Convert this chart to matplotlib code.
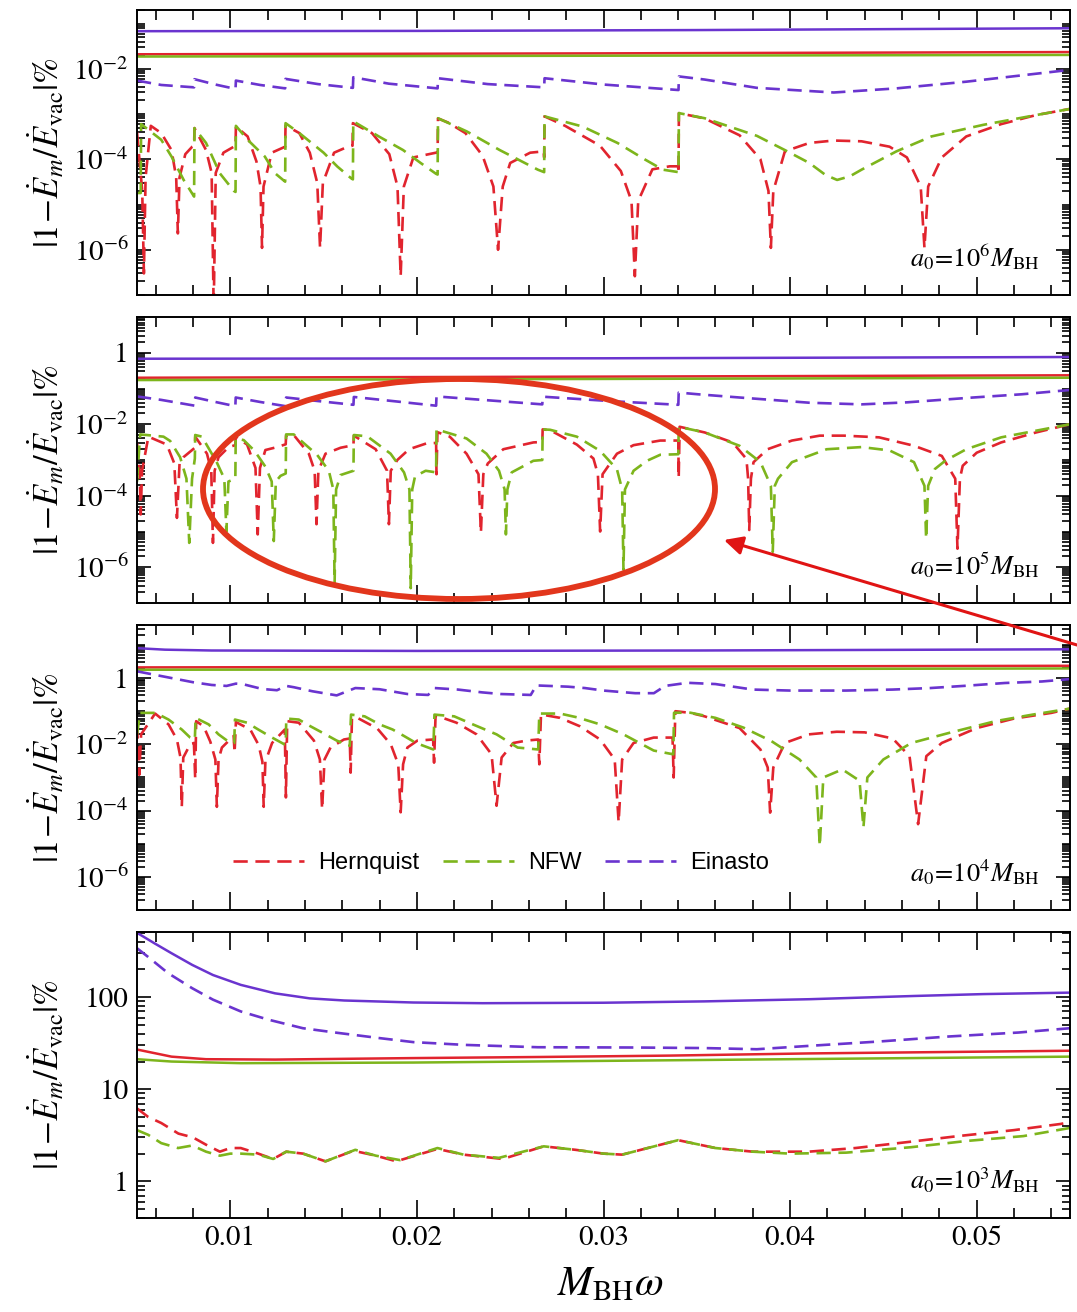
import numpy as np
import matplotlib
matplotlib.use('Agg')
import matplotlib.pyplot as plt
from matplotlib.ticker import LogLocator, MultipleLocator, FuncFormatter, NullFormatter
from matplotlib.patches import Ellipse, FancyArrowPatch

plt.rcParams['font.family'] = 'STIXGeneral'
plt.rcParams['mathtext.fontset'] = 'stix'

RED = '#e1242e'
GREEN = '#7db51c'
PURPLE = '#6a34cf'

# ---------------- a0 = 1e6 M_BH ----------------
hern_solid_6 = [(0.005, 0.021), (0.030, 0.022), (0.055, 0.0235)]
nfw_solid_6 = [(0.005, 0.0187), (0.030, 0.0195), (0.055, 0.0203)]
ein_solid_6 = [(0.005, 0.068), (0.020, 0.069), (0.035, 0.072), (0.055, 0.079)]

hern_dash_6 = [
    (0.00500, 4.0e-4), (0.00528, 2.0e-5), (0.00537, 3.0e-7), (0.00546, 4.0e-5), (0.00574, 5.5e-4),
    (0.00630, 3.8e-4), (0.00685, 1.6e-4), (0.00710, 4.0e-5), (0.00719, 2.3e-6), (0.00728, 4.0e-5),
    (0.00759, 1.3e-4), (0.00796, 1.9e-4), (0.00806, 2.0e-4), (0.00808, 4.9e-4),
    (0.00870, 1.6e-4), (0.00900, 5.0e-5), (0.00911, 5.0e-8), (0.00922, 5.0e-5), (0.00963, 1.4e-4),
    (0.01019, 1.9e-4), (0.01028, 1.9e-4), (0.01030, 5.3e-4),
    (0.01093, 3.2e-4), (0.01140, 9.0e-5), (0.01162, 2.5e-5), (0.01170, 1.1e-6), (0.01178, 2.5e-5),
    (0.01222, 1.4e-4), (0.01294, 1.9e-4), (0.01296, 5.6e-4),
    (0.01370, 3.8e-4), (0.01426, 1.4e-4), (0.01466, 3.0e-5), (0.01481, 1.1e-6), (0.01496, 3.0e-5),
    (0.01556, 1.4e-4), (0.01630, 1.9e-4), (0.01655, 2.0e-4), (0.01657, 6.3e-4),
    (0.01759, 3.8e-4), (0.01852, 1.3e-4), (0.01896, 2.5e-5), (0.01913, 2.6e-7), (0.01930, 2.5e-5),
    (0.01981, 1.1e-4), (0.02102, 1.4e-4), (0.02111, 1.4e-4), (0.02113, 8.0e-4),
    (0.02167, 6.5e-4), (0.02260, 3.8e-4), (0.02352, 1.2e-4), (0.02410, 2.5e-5), (0.02435, 1.0e-6),
    (0.02460, 2.5e-5), (0.02500, 8.3e-5), (0.02607, 1.4e-4), (0.02680, 1.5e-4), (0.02682, 1.1e-4),
    (0.02684, 8.9e-4), (0.02794, 5.5e-4), (0.02981, 2.0e-4), (0.03093, 5.5e-5), (0.03150, 1.2e-5),
    (0.03168, 2.6e-7), (0.03186, 1.2e-5), (0.03262, 6.0e-5), (0.03355, 7.0e-5), (0.03400, 7.0e-5),
    (0.03402, 4.9e-5), (0.03404, 1.05e-3), (0.03542, 8.0e-4), (0.03729, 3.4e-4), (0.03841, 1.0e-4),
    (0.03884, 2.0e-5), (0.03897, 1.1e-6), (0.03910, 2.0e-5), (0.03972, 1.5e-4), (0.04103, 2.3e-4),
    (0.04234, 2.6e-4), (0.04383, 2.5e-4), (0.04533, 1.9e-4), (0.04626, 1.1e-4), (0.04700, 2.5e-5),
    (0.04720, 1.1e-6), (0.04740, 2.5e-5), (0.04813, 1.1e-4), (0.04944, 3.2e-4), (0.05131, 6.0e-4),
    (0.05318, 9.5e-4), (0.05500, 1.3e-3)]

nfw_dash_6 = [
    (0.00500, 1.8e-5), (0.00520, 1.8e-5), (0.00522, 6.0e-4), (0.00630, 2.7e-4), (0.00685, 1.15e-4),
    (0.00750, 3.5e-5), (0.00806, 1.5e-5), (0.00808, 4.9e-4), (0.00870, 2.3e-4), (0.00944, 4.9e-5),
    (0.01019, 2.0e-5), (0.01028, 1.9e-5), (0.01030, 5.5e-4), (0.01093, 2.7e-4), (0.01185, 1.15e-4),
    (0.01240, 4.9e-5), (0.01294, 3.2e-5), (0.01296, 6.3e-4), (0.01370, 3.8e-4), (0.01500, 1.4e-4),
    (0.01574, 6.9e-5), (0.01648, 3.8e-5), (0.01657, 3.6e-5), (0.01659, 6.9e-4), (0.01796, 3.2e-4),
    (0.01926, 1.6e-4), (0.02020, 8.3e-5), (0.02102, 4.8e-5), (0.02111, 4.6e-5), (0.02113, 8.1e-4),
    (0.02269, 4.1e-4), (0.02444, 1.6e-4), (0.02648, 5.9e-5), (0.02682, 5.2e-5), (0.02684, 8.9e-4),
    (0.02888, 5.3e-4), (0.03075, 2.3e-4), (0.03224, 9.8e-5), (0.03318, 5.9e-5), (0.03402, 5.2e-5),
    (0.03404, 1.05e-3), (0.03542, 8.1e-4), (0.03822, 3.3e-4), (0.03972, 1.6e-4), (0.04103, 8.3e-5),
    (0.04190, 4.5e-5), (0.04252, 3.5e-5), (0.04320, 4.2e-5), (0.04383, 5.9e-5), (0.04570, 1.5e-4),
    (0.04757, 3.2e-4), (0.05037, 5.8e-4), (0.05318, 9.5e-4), (0.05500, 1.3e-3)]

ein_dash_6 = [
    (0.00500, 5.5e-3), (0.00630, 4.4e-3), (0.00806, 3.9e-3), (0.00808, 5.9e-3), (0.00920, 4.5e-3),
    (0.01028, 3.6e-3), (0.01030, 5.5e-3), (0.01160, 4.4e-3), (0.01294, 3.7e-3), (0.01296, 6.0e-3),
    (0.01470, 4.6e-3), (0.01657, 3.8e-3), (0.01659, 6.5e-3), (0.01850, 4.7e-3), (0.02111, 3.7e-3),
    (0.02113, 6.2e-3), (0.02380, 4.6e-3), (0.02682, 3.9e-3), (0.02684, 6.2e-3), (0.03000, 4.5e-3),
    (0.03402, 3.4e-3), (0.03404, 6.8e-3), (0.03542, 5.8e-3), (0.03822, 3.8e-3), (0.04234, 3.0e-3),
    (0.04570, 3.7e-3), (0.04944, 5.2e-3), (0.05500, 9.5e-3)]

# ---------------- a0 = 1e5 M_BH ----------------
hern_solid_5 = [(0.005, 0.200), (0.030, 0.215), (0.055, 0.234)]
nfw_solid_5 = [(0.005, 0.172), (0.030, 0.185), (0.055, 0.200)]
ein_solid_5 = [(0.005, 0.68), (0.030, 0.70), (0.055, 0.76)]

hern_dash_5 = [
    (0.00500, 3.0e-3), (0.00514, 5.0e-4), (0.00520, 3.0e-5), (0.00527, 5.0e-4), (0.00561, 4.5e-3),
    (0.00660, 2.7e-3), (0.00700, 8.0e-4), (0.00714, 2.4e-5), (0.00728, 8.0e-4), (0.00749, 1.2e-3),
    (0.00810, 2.2e-3), (0.00812, 4.5e-3),
    (0.00875, 1.5e-3), (0.00898, 5.0e-4), (0.00907, 4.8e-6), (0.00916, 5.0e-4), (0.00937, 1.2e-3),
    (0.00991, 2.3e-3), (0.01027, 2.6e-3), (0.01029, 4.5e-3),
    (0.01090, 2.7e-3), (0.01135, 6.0e-4), (0.01147, 8.3e-6), (0.01159, 6.0e-4), (0.01188, 1.9e-3),
    (0.01251, 2.3e-3), (0.01297, 2.75e-3), (0.01299, 4.8e-3), (0.01340, 5.0e-3),
    (0.01421, 1.5e-3), (0.01452, 5.0e-4), (0.01462, 1.6e-5), (0.01472, 5.0e-4), (0.01510, 1.5e-3),
    (0.01591, 2.2e-3), (0.01660, 2.6e-3), (0.01662, 4.8e-3),
    (0.01779, 2.0e-3), (0.01840, 5.0e-4), (0.01850, 1.6e-5), (0.01860, 5.0e-4), (0.01895, 1.0e-3),
    (0.01958, 2.0e-3), (0.02050, 2.9e-3), (0.02103, 3.0e-3), (0.02105, 4.0e-4), (0.02110, 6.0e-3),
    (0.02176, 4.5e-3), (0.02266, 1.5e-3), (0.02330, 4.0e-4), (0.02343, 9.2e-6), (0.02356, 4.0e-4),
    (0.02380, 8.0e-4), (0.02463, 2.0e-3), (0.02624, 3.1e-3), (0.02672, 3.2e-3), (0.02674, 7.2e-3),
    (0.02714, 6.8e-3), (0.02857, 2.7e-3), (0.02946, 1.1e-3), (0.02970, 4.0e-4), (0.02982, 1.0e-5),
    (0.02995, 4.0e-4), (0.03072, 1.5e-3), (0.03161, 2.6e-3), (0.03304, 3.5e-3), (0.03401, 3.5e-3),
    (0.03403, 3.2e-4), (0.03408, 8.5e-3),
    (0.03542, 5.9e-3), (0.03692, 3.1e-3), (0.03766, 1.07e-3), (0.03775, 3.0e-4), (0.03781, 1.1e-5),
    (0.03790, 3.0e-4), (0.03804, 8.7e-4), (0.03879, 2.0e-3), (0.04010, 3.5e-3), (0.04159, 4.8e-3),
    (0.04290, 4.8e-3), (0.04477, 4.3e-3), (0.04664, 2.5e-3), (0.04813, 1.3e-3), (0.04885, 3.0e-4),
    (0.04897, 3.3e-6), (0.04910, 3.0e-4), (0.04925, 6.9e-4), (0.05000, 1.6e-3), (0.05131, 3.1e-3),
    (0.05318, 5.9e-3), (0.05500, 1.0e-2)]

nfw_dash_5 = [
    (0.00500, 2.5e-4), (0.00517, 5.2e-3), (0.00642, 4.5e-3), (0.00678, 3.4e-3), (0.00731, 1.2e-3),
    (0.00765, 3.0e-4), (0.00780, 4.8e-6), (0.00795, 3.0e-4), (0.00810, 1.1e-3), (0.00812, 5.0e-3),
    (0.00848, 4.5e-3), (0.00928, 8.5e-4), (0.00968, 3.0e-4), (0.00979, 1.0e-5), (0.00990, 2.5e-4),
    (0.01027, 3.0e-4), (0.01029, 4.0e-3), (0.01072, 3.6e-3), (0.01130, 1.8e-3), (0.01188, 6.5e-4),
    (0.01222, 2.5e-4), (0.01233, 5.4e-6), (0.01244, 2.5e-4), (0.01269, 3.6e-4), (0.01297, 4.2e-4),
    (0.01299, 5.2e-3), (0.01340, 5.2e-3), (0.01465, 1.4e-3), (0.01528, 5.0e-4), (0.01552, 1.5e-4),
    (0.01559, 3.6e-7), (0.01567, 1.5e-4), (0.01591, 3.8e-4), (0.01660, 5.0e-4), (0.01662, 5.0e-3),
    (0.01734, 4.6e-3), (0.01859, 1.5e-3), (0.01931, 4.5e-4), (0.01960, 1.5e-4), (0.01967, 2.6e-7),
    (0.01975, 1.5e-4), (0.01990, 3.5e-4), (0.02047, 5.0e-4), (0.02103, 4.5e-4), (0.02105, 7.2e-3),
    (0.02266, 4.0e-3), (0.02373, 1.5e-3), (0.02440, 5.0e-4), (0.02470, 1.5e-4), (0.02477, 8.3e-6),
    (0.02485, 1.5e-4), (0.02508, 4.5e-4), (0.02624, 9.5e-4), (0.02672, 1.0e-3), (0.02674, 7.2e-3),
    (0.02714, 7.0e-3), (0.02857, 4.5e-3), (0.02982, 1.8e-3), (0.03072, 5.5e-4), (0.03100, 1.5e-4),
    (0.03107, 8.5e-7), (0.03115, 1.5e-4), (0.03161, 5.0e-4), (0.03233, 9.5e-4), (0.03304, 1.4e-3),
    (0.03401, 1.45e-3), (0.03403, 8.5e-3),
    (0.03542, 5.9e-3), (0.03729, 2.5e-3), (0.03841, 8.7e-4), (0.03897, 1.9e-4), (0.03907, 2.7e-6),
    (0.03918, 1.9e-4), (0.03935, 3.0e-4), (0.04010, 8.7e-4), (0.04196, 2.0e-3), (0.04383, 2.3e-3),
    (0.04533, 1.85e-3), (0.04664, 8.7e-4), (0.04720, 1.9e-4), (0.04729, 6.3e-6), (0.04740, 1.9e-4),
    (0.04776, 5.6e-4), (0.04832, 9.6e-4), (0.04944, 2.0e-3), (0.05131, 4.3e-3), (0.05318, 6.6e-3),
    (0.05500, 1.0e-2)]

ein_dash_5 = [
    (0.00500, 0.060), (0.00630, 0.048), (0.00810, 0.033), (0.00812, 0.056), (0.00920, 0.042),
    (0.01027, 0.032), (0.01029, 0.056), (0.01160, 0.042), (0.01297, 0.032), (0.01299, 0.056),
    (0.01480, 0.044), (0.01660, 0.035), (0.01662, 0.058), (0.01880, 0.044), (0.02103, 0.033),
    (0.02105, 0.060), (0.02400, 0.046), (0.02672, 0.036), (0.02674, 0.059), (0.03050, 0.044),
    (0.03401, 0.035), (0.03403, 0.077), (0.03505, 0.069), (0.03729, 0.056), (0.04103, 0.040),
    (0.04383, 0.036), (0.04626, 0.041), (0.04981, 0.056), (0.05243, 0.069), (0.05500, 0.091)]

# ---------------- a0 = 1e4 M_BH ----------------
hern_solid_4 = [(0.005, 2.10), (0.030, 2.20), (0.055, 2.35)]
nfw_solid_4 = [(0.005, 1.78), (0.030, 1.85), (0.055, 1.95)]
ein_solid_4 = [(0.005, 8.0), (0.0065, 7.2), (0.009, 6.8), (0.020, 6.6), (0.035, 6.8), (0.055, 7.4)]

hern_dash_4 = [
    (0.00500, 0.040), (0.00512, 1.2e-3), (0.00522, 0.020), (0.00597, 0.085), (0.00669, 0.040),
    (0.00714, 0.014), (0.00733, 4.0e-3), (0.00740, 1.3e-4), (0.00748, 4.0e-3), (0.00785, 0.010),
    (0.00805, 0.011), (0.00812, 9.0e-4), (0.00817, 0.050), (0.00857, 0.035), (0.00893, 0.012),
    (0.00920, 3.5e-3), (0.00928, 1.3e-4), (0.00937, 3.5e-3), (0.00955, 8.0e-3), (0.01018, 0.018),
    (0.01023, 5.6e-3), (0.01030, 0.047), (0.01107, 0.028), (0.01152, 0.0095), (0.01172, 3.0e-3),
    (0.01179, 1.3e-4), (0.01188, 3.0e-3), (0.01224, 0.011), (0.01292, 0.028), (0.01298, 2.5e-4),
    (0.01305, 0.050), (0.01367, 0.045), (0.01448, 0.013), (0.01480, 3.5e-3), (0.01492, 1.1e-4),
    (0.01505, 3.5e-3), (0.01537, 8.0e-3), (0.01609, 0.014), (0.01640, 0.015), (0.01645, 1.4e-3),
    (0.01652, 0.063), (0.01681, 0.063), (0.01788, 0.030), (0.01860, 0.010), (0.01900, 2.5e-3),
    (0.01913, 8.9e-5), (0.01926, 2.5e-3), (0.01949, 8.0e-3), (0.02003, 0.013), (0.02087, 0.014),
    (0.02092, 2.8e-3), (0.02100, 0.075), (0.02212, 0.045), (0.02320, 0.020), (0.02400, 5.0e-3),
    (0.02427, 1.4e-4), (0.02454, 4.0e-3), (0.02517, 0.011), (0.02588, 0.013), (0.02650, 0.014),
    (0.02656, 2.5e-3), (0.02665, 0.080), (0.02767, 0.063), (0.02874, 0.035), (0.02982, 0.014),
    (0.03060, 3.5e-3), (0.03081, 4.5e-5), (0.03100, 3.5e-3), (0.03161, 0.011), (0.03269, 0.016),
    (0.03370, 0.016), (0.03376, 1.0e-3), (0.03385, 0.100), (0.03466, 0.089), (0.03542, 0.070),
    (0.03729, 0.031), (0.03841, 7.0e-3), (0.03880, 2.0e-3), (0.03893, 8.7e-5), (0.03910, 2.0e-3),
    (0.03972, 0.011), (0.04100, 0.020), (0.04250, 0.024), (0.04400, 0.023), (0.04550, 0.015),
    (0.04640, 4.4e-3), (0.04686, 3.9e-5), (0.04730, 4.4e-3), (0.04813, 0.011), (0.05000, 0.031),
    (0.05200, 0.060), (0.05400, 0.089), (0.05500, 0.120)]

nfw_dash_4 = [
    (0.00500, 0.020), (0.00517, 0.089), (0.00600, 0.089), (0.00669, 0.056), (0.00740, 0.028),
    (0.00785, 0.016), (0.00810, 0.014), (0.00814, 0.063), (0.00884, 0.040), (0.00937, 0.020),
    (0.01000, 0.011), (0.01021, 0.011), (0.01025, 0.056), (0.01090, 0.045), (0.01150, 0.028),
    (0.01224, 0.016), (0.01290, 0.010), (0.01297, 0.010), (0.01300, 0.060), (0.01367, 0.056),
    (0.01430, 0.035), (0.01510, 0.020), (0.01570, 0.013), (0.01640, 9.0e-3), (0.01647, 0.079),
    (0.01720, 0.070), (0.01800, 0.040), (0.01870, 0.028), (0.01930, 0.018), (0.01995, 0.011),
    (0.02088, 7.0e-3), (0.02094, 0.079), (0.02200, 0.070), (0.02300, 0.040), (0.02427, 0.020),
    (0.02540, 8.0e-3), (0.02650, 7.0e-3), (0.02656, 0.085), (0.02767, 0.085), (0.02860, 0.065),
    (0.02982, 0.040), (0.03107, 0.020), (0.03269, 6.5e-3), (0.03374, 5.0e-3), (0.03378, 0.090),
    (0.03466, 0.090), (0.03600, 0.063), (0.03750, 0.032), (0.03900, 0.0125), (0.04050, 3.5e-3),
    (0.04140, 1.0e-3), (0.04159, 8.5e-6), (0.04178, 1.0e-3), (0.04280, 1.75e-3), (0.04372, 8.0e-4),
    (0.04393, 3.1e-5), (0.04414, 1.0e-3), (0.04500, 3.5e-3), (0.04650, 0.011), (0.04850, 0.022),
    (0.05100, 0.050), (0.05300, 0.079), (0.05500, 0.120)]

ein_dash_4 = [
    (0.00500, 1.60), (0.00630, 1.15), (0.00800, 0.75), (0.00900, 0.62), (0.00980, 0.58),
    (0.01030, 0.68), (0.01070, 0.65), (0.01170, 0.47), (0.01250, 0.43), (0.01300, 0.58),
    (0.01340, 0.53), (0.01440, 0.40), (0.01570, 0.30), (0.01670, 0.50), (0.01800, 0.46),
    (0.01950, 0.33), (0.02060, 0.31), (0.02096, 0.50), (0.02220, 0.45), (0.02350, 0.37),
    (0.02450, 0.33), (0.02610, 0.31), (0.02640, 0.60), (0.02810, 0.55), (0.02900, 0.50),
    (0.03000, 0.42), (0.03170, 0.35), (0.03270, 0.35), (0.03330, 0.58), (0.03450, 0.72),
    (0.03600, 0.66), (0.03800, 0.45), (0.04000, 0.42), (0.04300, 0.42), (0.04550, 0.45),
    (0.04750, 0.50), (0.04950, 0.59), (0.05150, 0.71), (0.05350, 0.79), (0.05500, 0.93)]

# ---------------- a0 = 1e3 M_BH ----------------
hern_solid_3 = [(0.0050, 27.0), (0.00685, 22.6), (0.0087, 21.2), (0.0124, 21.0), (0.0198, 21.8),
                (0.0265, 22.4), (0.03355, 23.2), (0.04103, 24.5), (0.0550, 26.2)]
nfw_solid_3 = [(0.0050, 21.2), (0.00685, 20.0), (0.01056, 19.2), (0.0198, 19.5), (0.02607, 20.0),
               (0.04103, 21.3), (0.0550, 22.6)]
ein_solid_3 = [(0.0050, 500), (0.00593, 385), (0.00685, 300), (0.00796, 224), (0.00907, 174),
               (0.01056, 136), (0.0124, 110), (0.01426, 97), (0.01611, 92), (0.01981, 87.5),
               (0.02352, 86), (0.0300, 87), (0.03542, 90), (0.04103, 95), (0.04664, 103),
               (0.05037, 108), (0.0550, 112)]

hern_dash_3 = [
    (0.00500, 6.2), (0.00560, 5.0), (0.00630, 4.3), (0.00722, 3.3), (0.00800, 3.0), (0.00870, 2.5),
    (0.00944, 2.1), (0.01000, 2.3), (0.01056, 2.3), (0.01150, 2.0), (0.01230, 1.75), (0.01300, 2.1),
    (0.01390, 2.0), (0.01510, 1.65), (0.01660, 2.15), (0.01780, 1.9), (0.01890, 1.65), (0.02110, 2.25),
    (0.02250, 1.95), (0.02460, 1.75), (0.02680, 2.4), (0.02850, 2.2), (0.03000, 2.0), (0.03100, 1.95),
    (0.03400, 2.8), (0.03600, 2.3), (0.03800, 2.1), (0.04100, 2.1), (0.04350, 2.3), (0.04650, 2.7),
    (0.04900, 3.1), (0.05200, 3.6), (0.05450, 4.2), (0.05500, 4.4)]

nfw_dash_3 = [
    (0.00500, 3.6), (0.00560, 3.2), (0.00630, 2.6), (0.00720, 2.3), (0.00796, 2.45), (0.00870, 2.1),
    (0.00944, 1.9), (0.01000, 2.0), (0.01056, 2.0), (0.01150, 1.95), (0.01230, 1.75), (0.01300, 2.1),
    (0.01390, 2.0), (0.01510, 1.65), (0.01670, 2.2), (0.01780, 1.9), (0.01910, 1.7), (0.02110, 2.3),
    (0.02250, 1.95), (0.02440, 1.8), (0.02680, 2.4), (0.02850, 2.2), (0.03000, 2.0), (0.03100, 1.95),
    (0.03400, 2.8), (0.03600, 2.3), (0.03800, 2.1), (0.04000, 2.0), (0.04300, 2.05), (0.04650, 2.35),
    (0.04950, 2.75), (0.05250, 3.1), (0.05500, 3.8)]

ein_dash_3 = [
    (0.0050, 340), (0.00556, 277), (0.00667, 182), (0.00796, 125), (0.00907, 94), (0.01056, 70),
    (0.01204, 57), (0.01389, 46), (0.01574, 41), (0.01796, 36), (0.01981, 32.5), (0.02259, 30.3),
    (0.02648, 28.6), (0.03168, 28.4), (0.03542, 28.0), (0.03822, 27.2), (0.04103, 29.6),
    (0.04477, 33.0), (0.04850, 37.4), (0.05224, 41.3), (0.05500, 46.0)]

panel_exp = [6, 5, 4, 3]
panel_ylim = [(1e-7, 0.2), (1e-7, 10), (1e-7, 40), (0.4, 510)]
panel_curves = [
    (hern_solid_6, nfw_solid_6, ein_solid_6, hern_dash_6, nfw_dash_6, ein_dash_6),
    (hern_solid_5, nfw_solid_5, ein_solid_5, hern_dash_5, nfw_dash_5, ein_dash_5),
    (hern_solid_4, nfw_solid_4, ein_solid_4, hern_dash_4, nfw_dash_4, ein_dash_4),
    (hern_solid_3, nfw_solid_3, ein_solid_3, hern_dash_3, nfw_dash_3, ein_dash_3),
]
labels = ['Hernquist', 'NFW', 'Einasto']
colors = [RED, GREEN, PURPLE]

W, H = 1077, 1312
fig = plt.figure(figsize=(W / 100, H / 100), dpi=100)

tops = [10, 317, 625, 932]
bottoms = [295, 603, 910, 1218]
left, right = 137, 1070


def decade_label(v, pos):
    e = int(round(np.log10(v)))
    if e == 0:
        return '1'
    return r'$10^{%d}$' % e


def plain_decades(v, pos):
    return '%g' % v


def draw(ax, pts, color, dashed, label=None):
    x, y = zip(*pts)
    if dashed:
        ax.plot(x, y, color=color, lw=1.9, dashes=(5.4, 2.9), label=label)
    else:
        ax.plot(x, y, color=color, lw=1.8)


axes = []
for i in range(4):
    ax = fig.add_axes([left / W, 1 - bottoms[i] / H, (right - left) / W, (bottoms[i] - tops[i]) / H])
    axes.append(ax)
    ax.set_yscale('log')
    ax.set_xlim(0.005, 0.055)
    ax.set_ylim(*panel_ylim[i])

    curves = panel_curves[i]
    for k in range(3):
        draw(ax, curves[k], colors[k], False)
    for k in range(3):
        draw(ax, curves[3 + k], colors[k], True, labels[k])

    ax.xaxis.set_major_locator(MultipleLocator(0.01))
    ax.xaxis.set_minor_locator(MultipleLocator(0.002))
    ax.yaxis.set_minor_formatter(NullFormatter())
    if i < 3:
        # labelled ticks every second decade, plain ticks in between
        ax.yaxis.set_major_locator(LogLocator(base=100, numticks=30))
        ax.yaxis.set_minor_locator(LogLocator(base=10, subs=np.arange(1, 10), numticks=30))
        ax.yaxis.set_major_formatter(FuncFormatter(decade_label))
        ax.xaxis.set_major_formatter(NullFormatter())
    else:
        ax.yaxis.set_major_locator(LogLocator(base=10, numticks=30))
        ax.yaxis.set_minor_locator(LogLocator(base=10, subs=np.arange(2, 10), numticks=30))
        ax.yaxis.set_major_formatter(FuncFormatter(plain_decades))
        ax.xaxis.set_major_formatter(FuncFormatter(lambda v, p: '%.2f' % v))

    ax.tick_params(which='both', direction='in', top=True, right=True, width=1.2,
                   labelsize=21, pad=6)
    ax.tick_params(axis='x', which='major', length=13)
    ax.tick_params(axis='x', which='minor', length=7)
    ax.tick_params(axis='y', which='major', length=10)
    ax.tick_params(axis='y', which='minor', length=6)
    for s in ax.spines.values():
        s.set_linewidth(1.4)

    ax.set_ylabel(r'$|1\!-\!\dot{E}_m/\dot{E}_{\rm vac}|\%$', fontsize=25)
    ax.yaxis.set_label_coords(-0.075, 0.5)
    ax.text(0.967, 0.13, r'$a_0\!=\!10^{%d}M_{\rm BH}$' % panel_exp[i], transform=ax.transAxes,
            ha='right', va='center', fontsize=19)

axes[3].set_xlabel(r'$M_{\rm BH}\omega$', fontsize=30)
axes[3].xaxis.set_label_coords(0.508, -0.17)

axes[2].legend(loc='center', bbox_to_anchor=(0.39, 0.165), ncol=3, frameon=False,
               prop={'family': 'Liberation Sans', 'size': 17}, handlelength=3.0,
               handletextpad=0.6, columnspacing=1.0)

# highlight around the dense dips of the a0 = 1e5 panel
ring = Ellipse((459 / W, 1 - 489 / H), 512 / W, 220 / H, transform=fig.transFigure,
               fill=False, edgecolor='#e2361c', lw=4.2, zorder=20)
fig.add_artist(ring)
arrow = FancyArrowPatch((1.0, 1 - 645 / H), (724 / W, 1 - 540 / H), transform=fig.transFigure,
                        arrowstyle='-|>', mutation_scale=28, lw=2.2, color='#e01414',
                        shrinkA=0, shrinkB=0, zorder=21)
fig.add_artist(arrow)

fig.savefig('out.png', dpi=100)
